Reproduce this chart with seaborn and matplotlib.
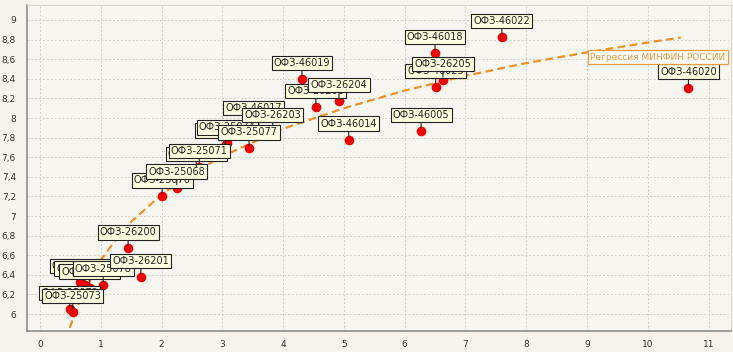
import numpy as np
import pandas as pd
import matplotlib
matplotlib.use("Agg")
import matplotlib.pyplot as plt
from matplotlib.ticker import MultipleLocator, FuncFormatter
import seaborn as sns

# ---- data ----
bond_names = ["ОФЗ-25072", "ОФЗ-25073", "ОФЗ-25080", "ОФЗ-25081", "ОФЗ-25075", "ОФЗ-25078",
              "ОФЗ-26200", "ОФЗ-26201", "ОФЗ-25076", "ОФЗ-25068", "ОФЗ-25069", "ОФЗ-25071",
              "ОФЗ-25079", "ОФЗ-25074", "ОФЗ-46017", "ОФЗ-26203", "ОФЗ-25077", "ОФЗ-46019",
              "ОФЗ-26206", "ОФЗ-26204", "ОФЗ-46014", "ОФЗ-46005", "ОФЗ-46025", "ОФЗ-26205",
              "ОФЗ-46018", "ОФЗ-46022", "ОФЗ-46020"]
duration = [0.49, 0.54, 0.66, 0.74, 0.82, 1.04,
            1.45, 1.66, 2.01, 2.25, 2.57, 2.62,
            3.05, 3.08, 3.52, 3.83, 3.44, 4.31,
            4.54, 4.92, 5.08, 6.27, 6.51, 6.63,
            6.50, 7.60, 10.67]
yield_pct = [6.05, 6.02, 6.33, 6.30, 6.27, 6.30,
             6.67, 6.38, 7.20, 7.29, 7.47, 7.50,
             7.71, 7.74, 7.94, 7.87, 7.69, 8.40,
             8.11, 8.17, 7.78, 7.87, 8.32, 8.39,
             8.66, 8.83, 8.31]

# regression curve
reg_x = [0.49, 0.6, 0.75, 1.0, 1.25, 1.5, 2.0, 2.5, 3.0, 4.0, 5.0, 6.0, 7.0, 8.0, 9.0, 10.0, 10.54]
reg_y = [5.86, 6.05, 6.27, 6.55, 6.76, 6.94, 7.22, 7.43, 7.61, 7.89, 8.10, 8.28, 8.43, 8.56, 8.67, 8.77, 8.82]
reg_label = "Регрессия МИНФИН РОССИИ"

x_ticks = list(range(0, 12))
y_ticks = [6.0, 6.2, 6.4, 6.6, 6.8, 7.0, 7.2, 7.4, 7.6, 7.8, 8.0, 8.2, 8.4, 8.6, 8.8, 9.0]

df = pd.DataFrame({"name": bond_names, "x": duration, "y": yield_pct})
reg = pd.DataFrame({"x": reg_x, "y": reg_y})

sns.set_theme(style="white")
plt.rcParams["font.family"] = ["DejaVu Sans"]

BG = "#F7F4EE"
fig = plt.figure(figsize=(7.33, 3.52), dpi=100, facecolor=BG)
ax = fig.add_axes([27 / 733, 1 - 331 / 352, (731 - 27) / 733, (331 - 5) / 352])
ax.set_facecolor("#F8F6F1")

ax.set_xlim(-0.214, 11.37)
ax.set_ylim(5.827, 9.153)

ax.set_xticks(x_ticks)
ax.set_yticks(y_ticks)
ax.xaxis.set_minor_locator(MultipleLocator(0.1))
ax.yaxis.set_minor_locator(MultipleLocator(0.05))
ax.yaxis.set_major_formatter(FuncFormatter(lambda v, p: ("%g" % round(v, 2)).replace(".", ",")))
ax.tick_params(axis="both", which="major", labelsize=6.5, labelcolor="#333333",
               length=4, width=0.6, color="#999999", pad=2, direction="out")
ax.tick_params(axis="both", which="minor", length=2, width=0.5, color="#AAAAAA", direction="out")
ax.tick_params(axis="x", pad=2.5)
ax.tick_params(axis="y", pad=4)

ax.grid(True, which="major", linestyle=(0, (2, 2)), color="#D6D2CA", linewidth=0.7)
ax.set_axisbelow(True)
for s in ["top", "right"]:
    ax.spines[s].set_color("#DDDAD3")
    ax.spines[s].set_linewidth(0.8)
for s in ["left", "bottom"]:
    ax.spines[s].set_color("#8E8E8E")
    ax.spines[s].set_linewidth(1.2)

# regression line
sns.lineplot(data=reg, x="x", y="y", ax=ax, color="#F0902A", linewidth=1.6,
             linestyle=(0, (3.5, 2)), zorder=2, sort=False)

# points
sns.scatterplot(data=df, x="x", y="y", ax=ax, color="#EE0000", s=48,
                edgecolor="#EE0000", linewidth=0, zorder=3)

ax.set_xlabel("")
ax.set_ylabel("")

# labels with stems
for i, row in df.iterrows():
    ax.annotate(row["name"], xy=(row["x"], row["y"]), xytext=(0, 16),
                textcoords="offset pixels", ha="center", va="center",
                fontsize=7, color="#222222",
                bbox=dict(boxstyle="square,pad=0.22", fc="#FFFFE1", ec="#222222", lw=0.8),
                arrowprops=dict(arrowstyle="-", color="#222222", lw=0.8,
                                shrinkA=0, shrinkB=2),
                zorder=10 + i)

ax.annotate(reg_label, xy=(10.17, 8.62), ha="center", va="center",
            fontsize=6.5, color="#E89A45",
            bbox=dict(boxstyle="square,pad=0.3", fc="#FFFDF8", ec="#E89A45", lw=0.9),
            zorder=60)

fig.savefig("out.png", dpi=100, facecolor=BG)
